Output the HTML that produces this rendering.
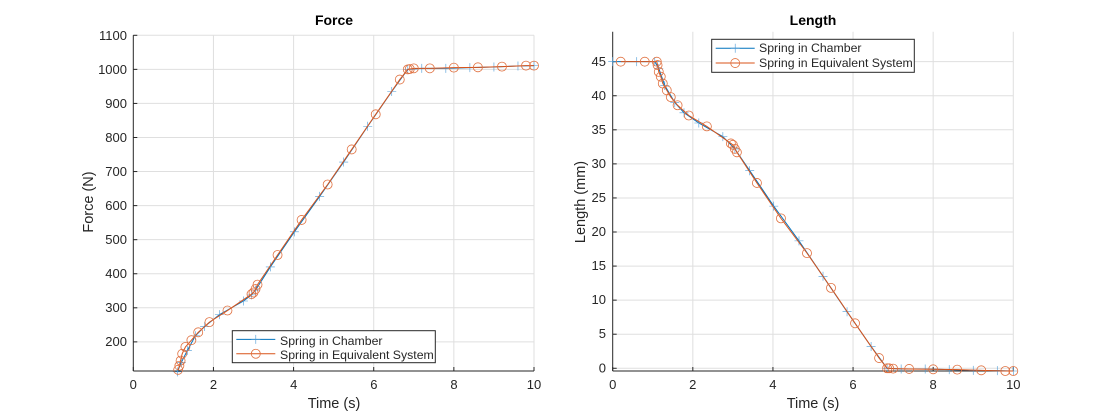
<!DOCTYPE html>
<html><head><meta charset="utf-8"><style>
body{margin:0;background:#fff;}
svg{display:block;font-family:"Liberation Sans",Arial,sans-serif;}
</style></head><body>
<svg id="s" width="1120" height="420" viewBox="0 0 1120 420" xmlns="http://www.w3.org/2000/svg">
<g id="g"></g>
<g id="txt" font-size="13" fill="#262626">
<g text-anchor="end">
<text x="127" y="39.8">1100</text><text x="127" y="73.8">1000</text><text x="127" y="107.8">900</text><text x="127" y="141.8">800</text><text x="127" y="175.8">700</text><text x="127" y="209.8">600</text><text x="127" y="243.8">500</text><text x="127" y="277.8">400</text><text x="127" y="311.8">300</text><text x="127" y="346.2">200</text>
<text x="606" y="66.2">45</text><text x="606" y="100.2">40</text><text x="606" y="134.2">35</text><text x="606" y="168.2">30</text><text x="606" y="202.2">25</text><text x="606" y="236.2">20</text><text x="606" y="270.2">15</text><text x="606" y="304.2">10</text><text x="606" y="338.2">5</text><text x="606" y="372.7">0</text>
</g>
<g text-anchor="middle">
<text x="133.3" y="389">0</text><text x="213.5" y="389">2</text><text x="293.7" y="389">4</text><text x="373.9" y="389">6</text><text x="454" y="389">8</text><text x="534" y="389">10</text>
<text x="612.7" y="389">0</text><text x="692.8" y="389">2</text><text x="772.9" y="389">4</text><text x="853" y="389">6</text><text x="933.1" y="389">8</text><text x="1013.3" y="389">10</text>
</g>
<g text-anchor="middle" font-size="14.5">
<text x="334" y="408">Time (s)</text><text x="813" y="408">Time (s)</text>
<text transform="translate(93,202) rotate(-90)">Force (N)</text>
<text transform="translate(585,202) rotate(-90)">Length (mm)</text>
<text x="334" y="25" font-weight="bold" font-size="14" fill="#000">Force</text>
<text x="813" y="25" font-weight="bold" font-size="14" fill="#000">Length</text>
</g>
<g font-size="12.3">
<text x="280" y="345">Spring in Chamber</text><text x="280" y="359">Spring in Equivalent System</text>
<text x="759" y="52">Spring in Chamber</text><text x="759" y="67">Spring in Equivalent System</text>
</g>
</g>
</svg>
<script>
var NS="http://www.w3.org/2000/svg",g=document.getElementById('g');
function el(t,a){var e=document.createElementNS(NS,t);for(var k in a)e.setAttribute(k,a[k]);g.appendChild(e);return e;}
function axes(x0,x1,yt,yb,ymin,ymax,yt_ticks){
 var X=function(t){return x0+(x1-x0)*t/10},Y=function(v){return yb-(yb-yt)*(v-ymin)/(ymax-ymin)};
 for(var i=1;i<=5;i++)el('line',{x1:X(2*i),x2:X(2*i),y1:yt,y2:yb,stroke:'#dfdfdf','stroke-width':1});
 yt_ticks.forEach(function(v){el('line',{x1:x0,x2:x1,y1:Y(v),y2:Y(v),stroke:'#dfdfdf','stroke-width':1});el('line',{x1:x0,x2:x0+4,y1:Y(v),y2:Y(v),stroke:'#262626'});});
 for(var i=0;i<=5;i++)el('line',{x1:X(2*i),x2:X(2*i),y1:yb,y2:yb-4,stroke:'#262626'});
 el('line',{x1:x0,x2:x0,y1:yt,y2:yb,stroke:'#262626'});
 el('line',{x1:x0,x2:x1,y1:yb,y2:yb,stroke:'#262626'});
 return [X,Y];
}
function series(f,pl,ci){
 var X=f[0],Y=f[1];
 var pts=pl.map(function(p){return X(p[0])+','+Y(p[1])}).join(' ');
 el('polyline',{points:pts,fill:'none',stroke:'#0072BD','stroke-width':1});
 pl.forEach(function(p){var x=X(p[0]),y=Y(p[1]);el('path',{d:'M'+(x-4.5)+' '+y+'h9M'+x+' '+(y-4.5)+'v9',stroke:'#4a9ad6','stroke-width':0.6});});
 var cp=ci.map(function(p){return X(p[0])+','+Y(p[1])}).join(' ');
 el('polyline',{points:cp,fill:'none',stroke:'#D95319','stroke-width':1});
 ci.forEach(function(p){el('circle',{cx:X(p[0]),cy:Y(p[1]),r:4.5,fill:'none',stroke:'#E0703F','stroke-width':0.8});});
}
var A=axes(133.3,534,35.3,371,114.5,1100,[200,300,400,500,600,700,800,900,1000,1100]);
series(A,[[1.1,112],[1.2,140],[1.35,175],[1.55,218],[1.78,245],[2.15,280],[2.75,320],[2.95,338],[3.05,352],[3.42,420],[4.02,523],[4.65,627],[5.25,728],[5.85,833],[6.45,935],[6.85,1000],[7.2,1003],[7.8,1003],[8.4,1005],[9.0,1007],[9.6,1010],[10,1011]],
[[1.12,118],[1.15,130],[1.18,145],[1.22,165],[1.3,185],[1.45,205],[1.62,228],[1.9,258],[2.35,292],[2.95,340],[3.0,345],[3.05,355],[3.1,368],[3.6,455],[4.2,558],[4.85,662],[5.45,765],[6.05,868],[6.65,970],[6.85,1000],[6.9,1001],[7.0,1003],[7.4,1003],[8.0,1005],[8.6,1006],[9.2,1008],[9.8,1011],[10,1011]]);
var B=axes(612.7,1013.3,31.7,371,-0.4,49.4,[0,5,10,15,20,25,30,35,40,45]);
series(B,[[0,45],[0.6,45],[1.05,45],[1.15,44],[1.3,41.5],[1.55,39],[1.78,37.5],[2.15,36],[2.75,34],[3.05,32.2],[3.42,29],[4.02,23.8],[4.65,18.7],[5.25,13.5],[5.85,8.3],[6.45,3.2],[6.85,0],[7.2,-0.1],[7.8,-0.1],[8.4,-0.2],[9.0,-0.3],[9.6,-0.35],[10,-0.4]],
[[0.2,45],[0.8,45],[1.1,45],[1.12,44.5],[1.15,43.5],[1.2,42.8],[1.25,41.8],[1.35,40.8],[1.45,39.8],[1.62,38.6],[1.9,37.1],[2.35,35.5],[2.95,33],[3.0,32.8],[3.05,32.2],[3.1,31.7],[3.6,27.2],[4.2,22],[4.85,16.9],[5.45,11.8],[6.05,6.6],[6.65,1.5],[6.85,0],[6.9,0],[7.0,-0.05],[7.4,-0.1],[8.0,-0.15],[8.6,-0.2],[9.2,-0.3],[9.8,-0.4],[10,-0.4]]);
function legend(x,y,w,h){
 el('rect',{x:x,y:y,width:w,height:h,fill:'#fff',stroke:'#262626','stroke-width':1});
 var y1=y+h*0.27,y2=y+h*0.72;
 el('line',{x1:x+4,x2:x+43,y1:y1,y2:y1,stroke:'#0072BD'});
 el('path',{d:'M'+(x+19)+' '+y1+'h9M'+(x+23.5)+' '+(y1-4.5)+'v9',stroke:'#4a9ad6','stroke-width':0.6});
 el('line',{x1:x+4,x2:x+43,y1:y2,y2:y2,stroke:'#D95319'});
 el('circle',{cx:x+23.5,cy:y2,r:4.5,fill:'none',stroke:'#E0703F','stroke-width':0.8});
}
legend(232.3,330.7,203,32);
legend(711.7,39.3,202.6,33);
document.getElementById('s').appendChild(document.getElementById('txt'));
</script>
</body></html>
